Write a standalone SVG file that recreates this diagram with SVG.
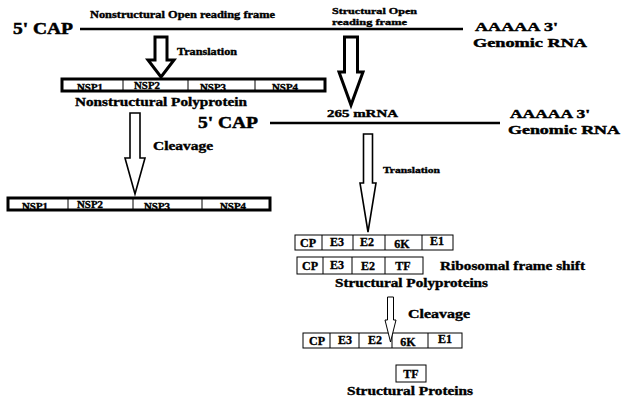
<svg xmlns="http://www.w3.org/2000/svg" width="623" height="398" viewBox="0 0 623 398">
<style>
text{font-family:"Liberation Serif","Times New Roman",serif;font-weight:bold;fill:#000;stroke:#000;stroke-width:0.35}
.big{font-size:16px;stroke-width:0.5}
.mid{font-size:13px;stroke-width:0.45}
.lab{font-size:11.5px}
.cl{font-size:12px}
.sm{font-size:9.5px}
.xs{font-size:8.5px}
.c{text-anchor:middle}
.rna{stroke:#000;stroke-width:2.5;fill:none}
.arT{fill:#fff;stroke:#000;stroke-width:3;stroke-linejoin:miter}
.arM{fill:#fff;stroke:#000;stroke-width:1.6}
.arS{fill:#fff;stroke:#000;stroke-width:1}
.boxT{fill:#fff;stroke:#000;stroke-width:3}
.div{stroke:#000;stroke-width:1}
.cell{fill:#fff;stroke:#000;stroke-width:1}
</style>
<rect width="623" height="398" fill="#fff"/>

<g id="genomic-rna-1">
<line class="rna" x1="80" y1="29" x2="463" y2="29"/>
<text class="big" x="13" y="34" textLength="60" lengthAdjust="spacingAndGlyphs">5' CAP</text>
<text class="sm" x="90" y="18" textLength="185" lengthAdjust="spacingAndGlyphs">Nonstructural Open reading frame</text>
<text class="xs" x="332" y="14" textLength="85" lengthAdjust="spacingAndGlyphs">Structural Open</text>
<text class="xs" x="332" y="25" textLength="75" lengthAdjust="spacingAndGlyphs">reading frame</text>
<text class="mid" x="475" y="31" textLength="83" lengthAdjust="spacingAndGlyphs">AAAAA 3'</text>
<text class="mid" x="473" y="47" textLength="114" lengthAdjust="spacingAndGlyphs">Genomic RNA</text>
</g>

<g id="nonstructural-polyprotein">
<rect class="boxT" x="62" y="79" width="263" height="12"/>
<line class="div" x1="123" y1="80" x2="123" y2="90"/>
<line class="div" x1="188" y1="80" x2="188" y2="90"/>
<line class="div" x1="255" y1="80" x2="255" y2="90"/>
<text class="sm c" x="90" y="91" textLength="26" lengthAdjust="spacingAndGlyphs">NSP1</text>
<text class="sm c" x="147" y="89" textLength="26" lengthAdjust="spacingAndGlyphs">NSP2</text>
<text class="sm c" x="213" y="91" textLength="26" lengthAdjust="spacingAndGlyphs">NSP3</text>
<text class="sm c" x="285" y="91" textLength="26" lengthAdjust="spacingAndGlyphs">NSP4</text>
<text class="lab" x="75" y="106" textLength="172" lengthAdjust="spacingAndGlyphs">Nonstructural Polyprotein</text>
</g>

<g id="mrna-26s">
<line class="rna" x1="270" y1="123" x2="500" y2="123"/>
<text class="big" x="198" y="128" textLength="60" lengthAdjust="spacingAndGlyphs">5' CAP</text>
<text class="sm" x="327" y="117" textLength="71" lengthAdjust="spacingAndGlyphs">265 mRNA</text>
<text class="mid" x="510" y="118" textLength="80" lengthAdjust="spacingAndGlyphs">AAAAA 3'</text>
<text class="mid" x="508" y="134" textLength="112" lengthAdjust="spacingAndGlyphs">Genomic RNA</text>
</g>

<g id="nsp-cleaved">
<rect class="boxT" x="8" y="198" width="262" height="12"/>
<line class="div" x1="68" y1="199" x2="68" y2="209"/>
<line class="div" x1="133" y1="199" x2="133" y2="209"/>
<line class="div" x1="202" y1="199" x2="202" y2="209"/>
<text class="sm c" x="35" y="210" textLength="26" lengthAdjust="spacingAndGlyphs">NSP1</text>
<text class="sm c" x="90" y="208" textLength="26" lengthAdjust="spacingAndGlyphs">NSP2</text>
<text class="sm c" x="157" y="210" textLength="26" lengthAdjust="spacingAndGlyphs">NSP3</text>
<text class="sm c" x="233" y="210" textLength="26" lengthAdjust="spacingAndGlyphs">NSP4</text>
</g>

<g id="structural-polyprotein-1">
<rect class="cell" x="295" y="235" width="158" height="15"/>
<line class="div" x1="322" y1="235" x2="322" y2="250"/>
<line class="div" x1="353" y1="235" x2="353" y2="250"/>
<line class="div" x1="385" y1="235" x2="385" y2="250"/>
<line class="div" x1="422" y1="235" x2="422" y2="250"/>
<text class="cl c" x="308" y="247">CP</text>
<text class="cl c" x="337" y="246">E3</text>
<text class="cl c" x="367" y="246">E2</text>
<text class="cl c" x="402" y="248">6K</text>
<text class="cl c" x="437" y="245">E1</text>
</g>

<g id="structural-polyprotein-2">
<rect class="cell" x="297" y="257" width="126" height="17"/>
<line class="div" x1="323" y1="257" x2="323" y2="274"/>
<line class="div" x1="352" y1="257" x2="352" y2="274"/>
<line class="div" x1="385" y1="257" x2="385" y2="274"/>
<text class="cl c" x="310" y="270">CP</text>
<text class="cl c" x="337" y="269">E3</text>
<text class="cl c" x="368" y="270">E2</text>
<text class="cl c" x="403" y="270">TF</text>
<text class="lab" x="440" y="270" textLength="145" lengthAdjust="spacingAndGlyphs">Ribosomal frame shift</text>
<text class="lab" x="335" y="287" textLength="153" lengthAdjust="spacingAndGlyphs">Structural Polyproteins</text>
</g>

<g id="structural-proteins">
<rect class="cell" x="303" y="333" width="159" height="15"/>
<line class="div" x1="330" y1="333" x2="330" y2="348"/>
<line class="div" x1="359" y1="333" x2="359" y2="348"/>
<line class="div" x1="392" y1="333" x2="392" y2="348"/>
<line class="div" x1="428" y1="333" x2="428" y2="348"/>
<text class="cl c" x="317" y="345">CP</text>
<text class="cl c" x="345" y="344">E3</text>
<text class="cl c" x="375" y="344">E2</text>
<text class="cl c" x="408" y="346">6K</text>
<text class="cl c" x="445" y="343">E1</text>
<rect class="cell" x="396" y="365" width="30" height="17"/>
<text class="cl c" x="411" y="378">TF</text>
<text class="lab" x="347" y="395" textLength="126" lengthAdjust="spacingAndGlyphs">Structural Proteins</text>
</g>

<g id="connectors">
<polygon class="arT" points="155,37 167,37 167,60 174,60 161,77 148,60 155,60"/>
<text class="sm" x="177" y="55" textLength="60" lengthAdjust="spacingAndGlyphs">Translation</text>
<polygon class="arT" points="344.5,37 357.5,37 357.5,72 363,72 351,105 339,72 344.5,72"/>
<polygon class="arM" points="130,113 140,113 140,158 145,158 135,194 125,158 130,158"/>
<text class="lab" x="153" y="150" textLength="60" lengthAdjust="spacingAndGlyphs">Cleavage</text>
<polygon class="arM" points="363.5,134 372.5,134 372.5,183 376,183 368,232 360,183 363.5,183"/>
<text class="xs" x="383" y="173" textLength="57" lengthAdjust="spacingAndGlyphs">Translation</text>
<polygon class="arS" points="387.5,297 393.5,297 393.5,320 396,320 390.5,342 385,320 387.5,320"/>
<text class="lab" x="408" y="318" textLength="62" lengthAdjust="spacingAndGlyphs">Cleavage</text>
</g>
</svg>
